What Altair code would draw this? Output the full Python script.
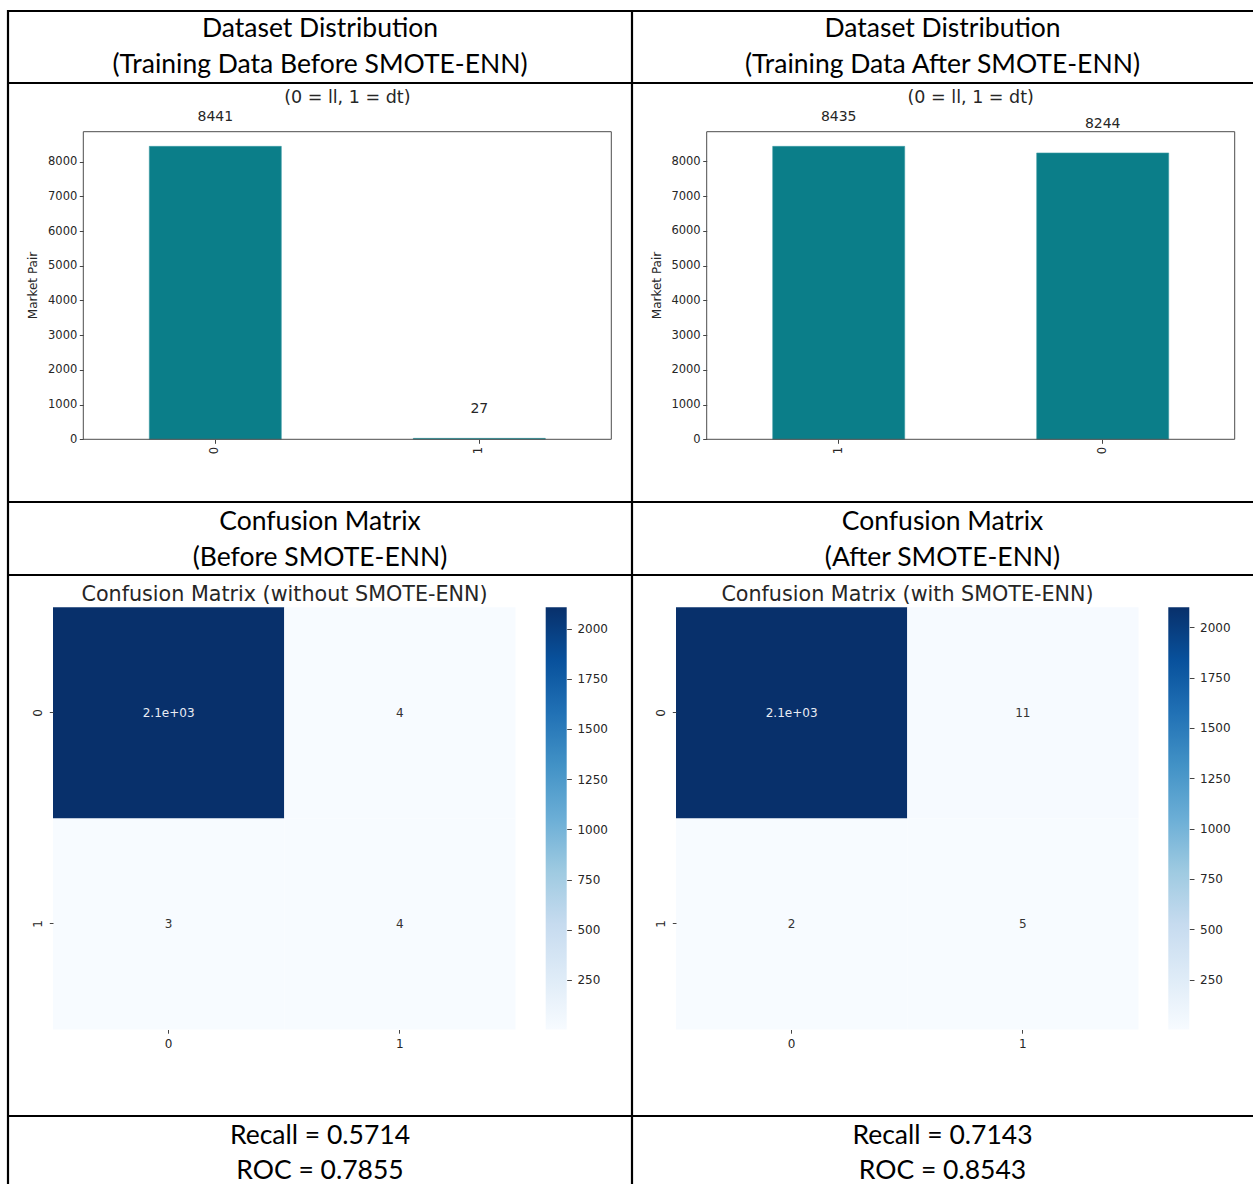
import altair as alt
import pandas as pd

# ---- values -------------------------------------------------------------
# class counts of the training set (0 = ll, 1 = dt)
before_classes = ["0", "1"]
before_counts = [8441, 27]
after_classes = ["1", "0"]
after_counts = [8435, 8244]

# confusion matrices on the test set: rows = actual, columns = predicted
cm_labels = ["0", "1"]
cm_before = [[2106, 4], [3, 4]]
cm_after = [[2099, 11], [2, 5]]

bar_ticks = [0, 1000, 2000, 3000, 4000, 5000, 6000, 7000, 8000]
cbar_ticks = [250, 500, 750, 1000, 1250, 1500, 1750, 2000]

recall_before, roc_before = "0.5714", "0.7855"
recall_after, roc_after = "0.7143", "0.8543"

# ---- styling ------------------------------------------------------------
W, H = 1253, 1184
TEAL = "#0b7e89"
BLUES = ["#f7fbff", "#deebf7", "#c6dbef", "#9ecae1", "#6baed6",
         "#4292c6", "#2171b5", "#08519c", "#08306b"]
PLOT_FONT = "DejaVu Sans"
CELL_FONT = "Lato"
INK = "#262626"
ONE = alt.Data(values=[{}])

COL_L = (8 + 632) / 2
COL_R = (632 + W) / 2


def label(txt, x, y, size, font=CELL_FONT, color="black", angle=0):
    return alt.Chart(ONE).mark_text(
        text=txt, font=font, fontSize=size, color=color,
        align="center", baseline="middle", angle=angle,
    ).encode(x=alt.value(x), y=alt.value(y))


def hline(y, x0=7, x1=W):
    return alt.Chart(ONE).mark_rule(color="black", strokeWidth=2.2).encode(
        x=alt.value(x0), x2=alt.value(x1), y=alt.value(y))


def vline(x, y0=10, y1=H):
    return alt.Chart(ONE).mark_rule(color="black", strokeWidth=2.2).encode(
        x=alt.value(x), y=alt.value(y0), y2=alt.value(y1))


def bar_panel(classes, counts, x0, x1, y_top=131.7, y_bot=439.3):
    df = pd.DataFrame({"cls": classes, "count": counts})
    ymax = max(counts) * 1.05
    xs = alt.Scale(domain=classes, range=[x0, x1], paddingInner=0.5, paddingOuter=0.25)
    ys = alt.Scale(domain=[0, ymax], range=[y_bot, y_top], nice=False, zero=True)
    base = alt.Chart(df)
    bars = base.mark_bar(color=TEAL, stroke="#3b9aa3", strokeWidth=0.6).encode(
        x=alt.X("cls:N", sort=classes, scale=xs, title=None,
                axis=alt.Axis(orient="bottom", offset=y_bot - H, labelAngle=270,
                              labelFontSize=11.5, tickSize=4, labelPadding=3,
                              domain=False, labelFont=PLOT_FONT, labelColor=INK,
                              tickColor="#444")),
        y=alt.Y("count:Q", scale=ys, title=None,
                axis=alt.Axis(orient="left", offset=-x0, values=bar_ticks, format="d",
                              labelFontSize=11.5, tickSize=4, labelPadding=2.5,
                              domain=False, grid=False, labelFont=PLOT_FONT,
                              labelColor=INK, tickColor="#444", labelOverlap=False,
                              labelFlush=False)),
    )
    texts = base.mark_text(font=PLOT_FONT, fontSize=14, color=INK,
                           align="center", baseline="middle", dy=-29).encode(
        x=alt.X("cls:N", sort=classes, scale=xs, axis=None),
        y=alt.Y("count:Q", scale=ys, axis=None),
        text=alt.Text("count:Q", format="d"),
    )
    frame = alt.Chart(ONE).mark_rect(fillOpacity=0, stroke="#4d4d4d", strokeWidth=1).encode(
        x=alt.value(x0), x2=alt.value(x1), y=alt.value(y_top), y2=alt.value(y_bot))
    return [bars, texts, frame]


def cm_panel(cm, x0, x1, cb_x0, cb_x1, y_top=607.3, y_bot=1029.5):
    rows = []
    for i, a in enumerate(cm_labels):
        for j, p in enumerate(cm_labels):
            rows.append({"actual": a, "pred": p, "n": cm[i][j], "lab": f"{cm[i][j]:.2g}"})
    df = pd.DataFrame(rows)
    vmin = min(min(r) for r in cm)
    vmax = max(max(r) for r in cm)
    stops = [vmin + (vmax - vmin) * k / 8 for k in range(9)]
    xs = alt.Scale(domain=cm_labels, range=[x0, x1], paddingInner=0, paddingOuter=0)
    ys = alt.Scale(domain=cm_labels, range=[y_top, y_bot], paddingInner=0, paddingOuter=0)
    base = alt.Chart(df)
    cells = base.mark_rect().encode(
        x=alt.X("pred:N", scale=xs, title=None,
                axis=alt.Axis(orient="bottom", offset=y_bot - H, labelAngle=0,
                              labelFontSize=12, tickSize=3.7, labelPadding=5,
                              domain=False, labelFont=PLOT_FONT, labelColor=INK,
                              tickColor="#444")),
        y=alt.Y("actual:N", scale=ys, title=None,
                axis=alt.Axis(orient="left", offset=-x0, labelAngle=270,
                              labelFontSize=12, tickSize=3.7, labelPadding=5,
                              domain=False, labelFont=PLOT_FONT, labelColor=INK,
                              tickColor="#444")),
        color=alt.Color("n:Q", scale=alt.Scale(domain=stops, range=BLUES, interpolate="rgb"),
                        legend=None),
    )
    texts = base.mark_text(font=PLOT_FONT, fontSize=12, align="center",
                           baseline="middle").encode(
        x=alt.X("pred:N", scale=xs, axis=None),
        y=alt.Y("actual:N", scale=ys, axis=None),
        text="lab:N",
        color=alt.condition(alt.datum.n > (vmin + vmax) / 2,
                            alt.value("#e9ecf4"), alt.value("#333333")),
    )
    gradient = alt.LinearGradient(
        gradient="linear",
        stops=[alt.GradientStop(offset=k / 8, color=c) for k, c in enumerate(BLUES)],
        x1=0, x2=0, y1=1, y2=0,
    )
    cbar = alt.Chart(ONE).mark_rect(fill=gradient).encode(
        x=alt.value(cb_x0), x2=alt.value(cb_x1),
        y=alt.Y(datum=vmin, type="quantitative",
                scale=alt.Scale(domain=[vmin, vmax], range=[y_bot, y_top], nice=False, zero=False),
                axis=alt.Axis(orient="right", offset=cb_x1 - W, values=cbar_ticks, format="d",
                              labelFontSize=12, tickSize=4.7, labelPadding=5.5,
                              domain=False, grid=False, labelFont=PLOT_FONT,
                              labelColor=INK, tickColor="#444", title=None,
                              labelOverlap=False, labelFlush=False)),
        y2=alt.Y2(datum=vmax),
    )
    return [cells, texts, cbar]


layers = []
layers += bar_panel(before_classes, before_counts, 83.3, 611.3)
layers += bar_panel(after_classes, after_counts, 706.7, 1234.7)
layers += cm_panel(cm_before, 53, 515.5, 545.7, 566.7)
layers += cm_panel(cm_after, 676, 1138.5, 1168.3, 1189.3)

# in-figure titles
layers += [
    label("(0 = ll, 1 = dt)", 347.3, 98, 17.5, font=PLOT_FONT, color=INK),
    label("(0 = ll, 1 = dt)", 970.7, 98, 17.5, font=PLOT_FONT, color=INK),
    label("Market Pair", 33, 285.5, 12, font=PLOT_FONT, color=INK, angle=270),
    label("Market Pair", 656.5, 285.5, 12, font=PLOT_FONT, color=INK, angle=270),
    label("Confusion Matrix (without SMOTE-ENN)", 284.5, 594.5, 20.7, font=PLOT_FONT, color=INK),
    label("Confusion Matrix (with SMOTE-ENN)", 907.5, 594.5, 20.7, font=PLOT_FONT, color=INK),
]

# table text
HS = 26.5
layers += [
    label("Dataset Distribution", COL_L, 29, HS),
    label("(Training Data Before SMOTE-ENN)", COL_L, 65, HS),
    label("Dataset Distribution", COL_R, 29, HS),
    label("(Training Data After SMOTE-ENN)", COL_R, 65, HS),
    label("Confusion Matrix", COL_L, 522, HS),
    label("(Before SMOTE-ENN)", COL_L, 558, HS),
    label("Confusion Matrix", COL_R, 522, HS),
    label("(After SMOTE-ENN)", COL_R, 558, HS),
    label(f"Recall = {recall_before}", COL_L, 1136, HS),
    label(f"ROC = {roc_before}", COL_L, 1171, HS),
    label(f"Recall = {recall_after}", COL_R, 1136, HS),
    label(f"ROC = {roc_after}", COL_R, 1171, HS),
]

# table grid
layers += [hline(y) for y in (11, 83, 502, 575, 1116)]
layers += [vline(8), vline(632)]

chart = (
    alt.layer(*layers)
    .resolve_scale(x="independent", y="independent", color="independent")
    .resolve_axis(x="independent", y="independent")
    .properties(width=W, height=H, padding=0, background="white",
                autosize=alt.AutoSizeParams(type="none"))
    .configure_view(stroke=None)
)

chart.save("out.html", embed_options={"renderer": "svg", "actions": False})
